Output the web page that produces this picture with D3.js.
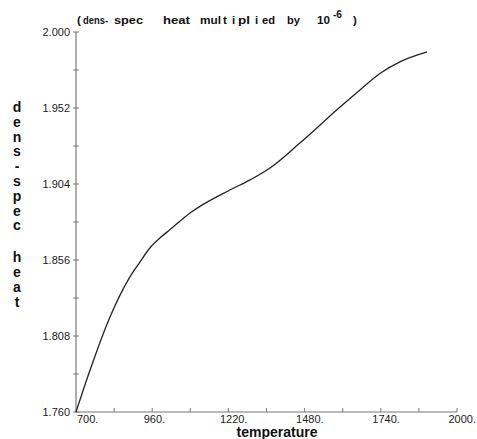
<!DOCTYPE html>
<html>
<head>
<meta charset="UTF-8">
<script src="https://d3js.org/d3.v7.min.js"></script>
<style>
  body { margin: 0; background: #fff; }
  svg { display: block; }
  text { font-family: "Liberation Sans", Arial, sans-serif; fill: #111; }
</style>
</head>
<body>
<svg id="chart" width="477" height="439"></svg>
<script>
  // curve
  const temps = [700, 748, 816, 884, 918, 952, 987, 1021, 1089, 1225, 1294, 1362, 1464, 1601, 1669, 1737, 1805, 1898];
  const values = [1.760, 1.7865, 1.8200, 1.8453, 1.8547, 1.8636, 1.8700, 1.8752, 1.8857, 1.9002, 1.9066, 1.9141, 1.9299, 1.9526, 1.9634, 1.9738, 1.9811, 1.9874];

  const xLabels = [700, 960, 1220, 1480, 1740, 2000];
  const yLabels = [1.760, 1.808, 1.856, 1.904, 1.952, 2.000];
  const yAxisTitle = "dens-spec heat";

  // top note, word by word as the plot program spaced it: [text, x, width]
  const noteWords = [
    ["(", 77, 0], ["dens-", 83, 25], ["spec", 114, 29], ["heat", 163, 27], ["mul", 200, 21],
    ["t", 223, 0], ["i", 232, 0], ["pl", 238, 12], ["i", 255, 0], ["ed", 262, 13],
    ["by", 287, 13], ["10", 317, 13], [")", 353, 0]
  ];

  const svg = d3.select("#chart");
  const mLeft = 76, mRight = 457, mTop = 32, mBottom = 412;

  const x = d3.scaleLinear().domain([700, 2000]).range([mLeft, mRight]);
  const y = d3.scaleLinear().domain([1.760, 2.000]).range([mBottom, mTop]);

  // axes lines
  svg.append("line").attr("x1", mLeft).attr("x2", mLeft).attr("y1", mTop).attr("y2", mBottom)
    .attr("stroke", "#777").attr("stroke-width", 1.2);
  svg.append("line").attr("x1", mLeft).attr("x2", mRight).attr("y1", mBottom).attr("y2", mBottom)
    .attr("stroke", "#777").attr("stroke-width", 1.2);

  // y ticks (every 0.024)
  const yTicks = d3.range(11).map(i => 1.760 + i * 0.024);
  svg.append("g").selectAll("line").data(yTicks).enter().append("line")
    .attr("x1", mLeft - 3).attr("x2", mLeft + 3)
    .attr("y1", d => y(d)).attr("y2", d => y(d))
    .attr("stroke", "#777").attr("stroke-width", 1);

  svg.append("g").selectAll("text").data(yLabels).enter().append("text")
    .attr("x", mLeft - 6).attr("y", d => y(d) + 4)
    .attr("text-anchor", "end").attr("font-size", 11).style("fill", "#222")
    .text(d => d.toFixed(3));

  // x ticks (every 130)
  const xTicks = d3.range(10).map(i => 830 + i * 130).filter(d => d < 2000);
  xTicks.push(2000);
  svg.append("g").selectAll("line").data(xTicks).enter().append("line")
    .attr("x1", d => x(d)).attr("x2", d => x(d))
    .attr("y1", mBottom).attr("y2", mBottom - 4)
    .attr("stroke", "#777").attr("stroke-width", 1);

  svg.append("g").selectAll("text").data(xLabels).enter().append("text")
    .attr("x", (d, i) => i === 0 ? x(d) + 1 : x(d) - 8.5)
    .attr("y", mBottom + 11)
    .attr("font-size", 11).style("fill", "#222")
    .text(d => d + ".");

  // x axis title
  svg.append("text").attr("x", 277).attr("y", 437)
    .attr("text-anchor", "middle").attr("font-size", 14).attr("font-weight", "bold")
    .text("temperature");

  // y axis title, one letter per line
  let yy = 112;
  const yt = svg.append("text").attr("font-size", 14).attr("font-weight", "bold").attr("text-anchor", "middle");
  yAxisTitle.split("").forEach(c => {
    if (c === " ") { yy += 17; return; }
    yt.append("tspan").attr("x", 17).attr("y", yy).text(c);
    yy += 14.8;
  });

  // top note
  const note = svg.append("text").attr("font-size", 11.5).attr("font-weight", "bold");
  noteWords.forEach(w => {
    const t = note.append("tspan").attr("x", w[1]).attr("y", 24).text(w[0]);
    if (w[2]) t.attr("textLength", w[2]).attr("lengthAdjust", "spacingAndGlyphs");
  });
  note.append("tspan").attr("x", 333).attr("y", 18).attr("font-size", 10).text("-6");

  // the curve
  const pts = temps.map((t, i) => [t, values[i]]);
  const line = d3.line().x(d => x(d[0])).y(d => y(d[1])).curve(d3.curveMonotoneX);
  svg.append("path").datum(pts).attr("d", line)
    .attr("fill", "none").attr("stroke", "#222").attr("stroke-width", 1.3);
</script>
</body>
</html>
